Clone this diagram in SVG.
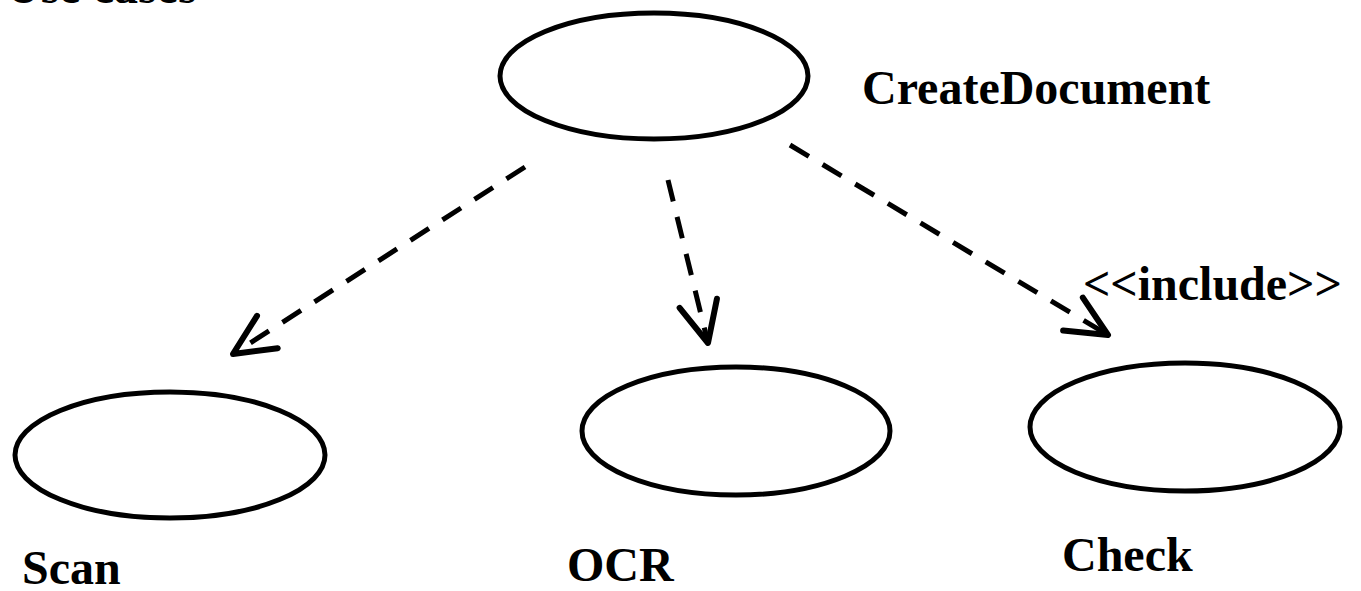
<svg xmlns="http://www.w3.org/2000/svg" width="1361" height="591" viewBox="0 0 1361 591">
<style>
  .uc { fill: #fff; stroke: #000; stroke-width: 5; }
  .lbl { font-family: "Liberation Serif", "Times New Roman", serif; font-weight: bold; font-size: 48px; fill: #000; }
  .dep { fill: none; stroke: #000; stroke-width: 5; stroke-dasharray: 22 16; marker-end: url(#open); }
</style>
<defs>
  <marker id="open" markerUnits="userSpaceOnUse" markerWidth="60" markerHeight="60" viewBox="-40 -25 50 50" refX="0" refY="0" orient="auto" overflow="visible">
    <path d="M -34 -16 L 0 0 L -34 16" fill="none" stroke="#000" stroke-width="5" stroke-linecap="round" stroke-linejoin="round" stroke-dasharray="none"/>
  </marker>
</defs>
<rect width="1361" height="591" fill="#fff"/>
<text class="lbl" x="6" y="3">Use cases</text>
<g id="connectors">
  <line class="dep" x1="525" y1="167" x2="233" y2="354"/>
  <line class="dep" x1="668" y1="180" x2="708" y2="343"/>
  <line class="dep" x1="790" y1="145" x2="1108" y2="335"/>
</g>
<g id="CreateDocument">
  <ellipse class="uc" cx="654" cy="76" rx="154" ry="63"/>
  <text class="lbl" x="862" y="104">CreateDocument</text>
</g>
<g id="include-label">
  <text class="lbl" x="1083" y="300">&lt;&lt;include&gt;&gt;</text>
</g>
<g id="Scan">
  <ellipse class="uc" cx="170" cy="455" rx="155" ry="63"/>
  <text class="lbl" x="22" y="584">Scan</text>
</g>
<g id="OCR">
  <ellipse class="uc" cx="736" cy="431" rx="154" ry="64"/>
  <text class="lbl" x="567" y="581">OCR</text>
</g>
<g id="Check">
  <ellipse class="uc" cx="1185" cy="427" rx="155" ry="64"/>
  <text class="lbl" x="1062" y="571">Check</text>
</g>
</svg>
